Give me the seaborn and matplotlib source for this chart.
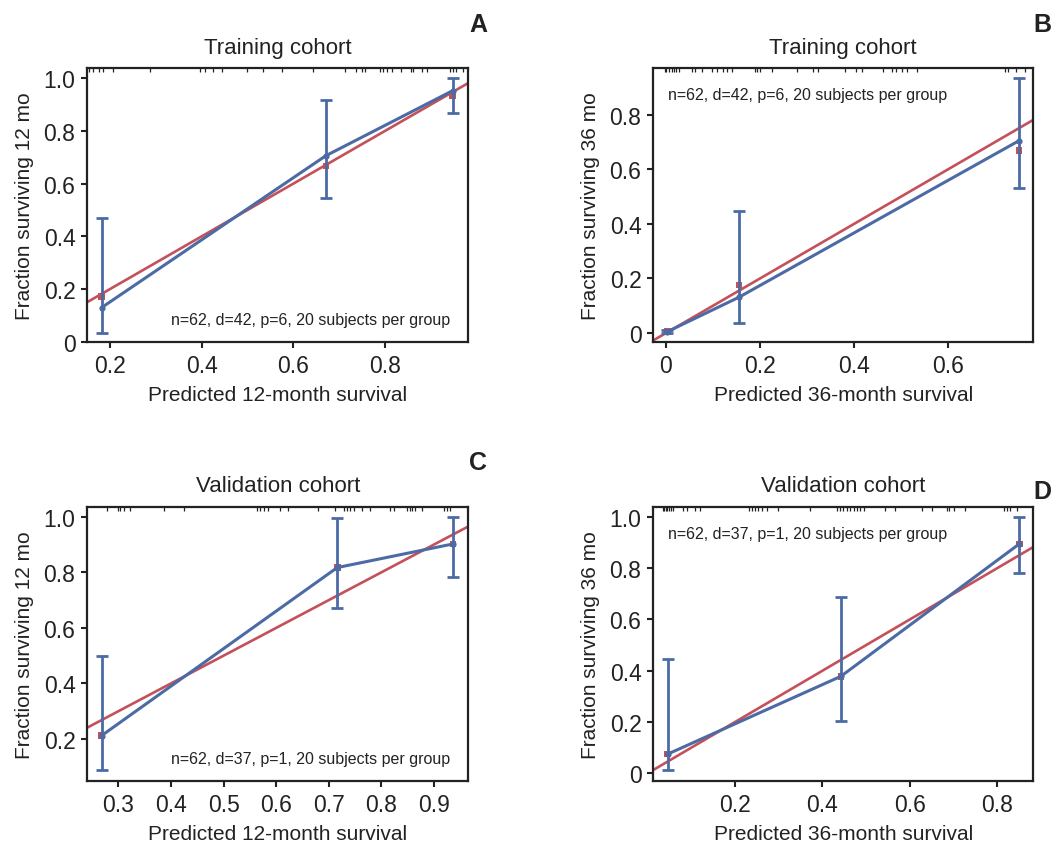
import numpy as np
import pandas as pd
import matplotlib
matplotlib.use("Agg")
import matplotlib.pyplot as plt
from matplotlib.ticker import FuncFormatter
import seaborn as sns

# ---------------- data ----------------
A_pred = [0.182, 0.671, 0.948]
A_obs = [0.130, 0.706, 0.953]
A_lo = [0.035, 0.546, 0.868]
A_hi = [0.470, 0.918, 1.000]
A_corr = [0.172, 0.668, 0.932]
A_rug = [0.155, 0.162, 0.177, 0.184, 0.206, 0.287, 0.396, 0.407, 0.425, 0.444,
         0.498, 0.535, 0.575, 0.644, 0.713, 0.738, 0.749, 0.756, 0.789, 0.796,
         0.804, 0.815, 0.836, 0.858, 0.862, 0.880, 0.891, 0.942, 0.949, 0.956, 0.971]

B_pred = [0.003, 0.155, 0.751]
B_obs = [0.005, 0.131, 0.705]
B_lo = [0.000, 0.037, 0.531]
B_hi = [0.010, 0.446, 0.934]
B_corr = [0.005, 0.176, 0.668]
B_rug = [-0.002, 0.001, 0.007, 0.012, 0.016, 0.021, 0.028, 0.055, 0.062, 0.076,
         0.097, 0.108, 0.122, 0.129, 0.140, 0.189, 0.193, 0.200, 0.225, 0.278,
         0.313, 0.324, 0.380, 0.405, 0.416, 0.462, 0.480, 0.490, 0.501, 0.512,
         0.533, 0.720, 0.727, 0.745, 0.763]

C_pred = [0.268, 0.716, 0.936]
C_obs = [0.212, 0.817, 0.902]
C_lo = [0.089, 0.671, 0.782]
C_hi = [0.500, 0.995, 1.000]
C_corr = [0.212, 0.817, 0.902]
C_rug = [0.278, 0.300, 0.303, 0.310, 0.322, 0.386, 0.424, 0.563, 0.569, 0.576,
         0.585, 0.607, 0.623, 0.680, 0.712, 0.728, 0.734, 0.740, 0.747, 0.763,
         0.779, 0.817, 0.823, 0.848, 0.855, 0.858, 0.864, 0.877, 0.918, 0.924, 0.930]

D_pred = [0.046, 0.442, 0.850]
D_obs = [0.075, 0.378, 0.894]
D_lo = [0.013, 0.205, 0.779]
D_hi = [0.445, 0.687, 0.997]
D_corr = [0.075, 0.378, 0.894]
D_rug = [0.035, 0.038, 0.042, 0.045, 0.050, 0.053, 0.058, 0.082, 0.090, 0.109,
         0.120, 0.231, 0.238, 0.246, 0.253, 0.261, 0.273, 0.299, 0.372, 0.433,
         0.440, 0.448, 0.456, 0.463, 0.471, 0.478, 0.486, 0.494, 0.543, 0.566,
         0.627, 0.650, 0.684, 0.690, 0.701, 0.726, 0.814, 0.821, 0.829, 0.844]

titles = ["Training cohort", "Training cohort", "Validation cohort", "Validation cohort"]
xlabels = ["Predicted 12-month survival", "Predicted 36-month survival",
           "Predicted 12-month survival", "Predicted 36-month survival"]
ylabels = ["Fraction surviving 12 mo", "Fraction surviving 36 mo",
           "Fraction surviving 12 mo", "Fraction surviving 36 mo"]
notes = ["n=62, d=42, p=6, 20 subjects per group", "n=62, d=42, p=6, 20 subjects per group",
         "n=62, d=37, p=1, 20 subjects per group", "n=62, d=37, p=1, 20 subjects per group"]
letters = ["A", "B", "C", "D"]

xticks = [[0.2, 0.4, 0.6, 0.8], [0, 0.2, 0.4, 0.6],
          [0.3, 0.4, 0.5, 0.6, 0.7, 0.8, 0.9], [0.2, 0.4, 0.6, 0.8]]
yticks = [[0, 0.2, 0.4, 0.6, 0.8, 1.0], [0, 0.2, 0.4, 0.6, 0.8],
          [0.2, 0.4, 0.6, 0.8, 1.0], [0, 0.2, 0.4, 0.6, 0.8, 1.0]]

# ---------------- style ----------------
sns.set_theme(style="ticks")
plt.rcParams['font.family'] = ['Liberation Sans Narrow', 'Liberation Sans', 'DejaVu Sans']
plt.rcParams['axes.edgecolor'] = '#222222'
plt.rcParams['text.color'] = '#222222'
plt.rcParams['axes.labelcolor'] = '#222222'
plt.rcParams['xtick.color'] = '#222222'
plt.rcParams['ytick.color'] = '#222222'

BLUE = "#4C6BA5"
RED = "#C4505A"

fig = plt.figure(figsize=(10.51, 8.45), dpi=100)

W, H = 1051, 845
boxes = [(87.3, 69.0, 468.3, 343.3), (653.3, 69.0, 1033.3, 343.3),
         (87.3, 507.7, 468.3, 781.7), (653.3, 507.7, 1033.3, 781.7)]
xlims = [(0.1505, 0.982), (-0.027, 0.781), (0.241, 0.965), (0.0132, 0.882)]
ylims = [(-0.002, 1.039), (-0.034, 0.971), (0.050, 1.036), (-0.0286, 1.039)]
note_pos = [(0.952, 0.082, 'right'), (0.040, 0.905, 'left'),
            (0.952, 0.082, 'right'), (0.040, 0.904, 'left')]
letter_pos = [(478, 25), (1042, 25), (478, 463), (1042, 492)]

panels = [
    (A_pred, A_obs, A_lo, A_hi, A_corr, A_rug),
    (B_pred, B_obs, B_lo, B_hi, B_corr, B_rug),
    (C_pred, C_obs, C_lo, C_hi, C_corr, C_rug),
    (D_pred, D_obs, D_lo, D_hi, D_corr, D_rug),
]

fmt = FuncFormatter(lambda v, p: '0' if abs(v) < 1e-9 else f'{v:.1f}')

for i, (pred, obs, lo, hi, corr, rug) in enumerate(panels):
    l, t, r, b = boxes[i]
    ax = fig.add_axes([l / W, 1 - b / H, (r - l) / W, (b - t) / H])
    df = pd.DataFrame({"pred": pred, "obs": obs, "lo": lo, "hi": hi, "corr": corr})

    # ideal line
    ax.axline((0, 0), slope=1, color=RED, lw=1.9, zorder=2)
    # bias-corrected marks
    sns.scatterplot(data=df, x="pred", y="corr", ax=ax, marker='s', s=22,
                    color=RED, edgecolor='none', zorder=3, legend=False)
    # observed calibration line
    sns.lineplot(data=df, x="pred", y="obs", ax=ax, sort=False, color=BLUE,
                 lw=2.2, marker='o', markersize=4.5, markeredgewidth=0, zorder=4)
    ax.errorbar(df["pred"], df["obs"],
                yerr=[df["obs"] - df["lo"], df["hi"] - df["obs"]],
                fmt='none', ecolor=BLUE, elinewidth=2.0, capsize=4, capthick=2.0,
                zorder=4)
    # rug of predictions at top
    ax.vlines(rug, 0.985, 1.0, transform=ax.get_xaxis_transform(),
              color='#222222', lw=0.9, zorder=5)

    ax.set_xlim(*xlims[i])
    ax.set_ylim(*ylims[i])
    ax.set_xticks(xticks[i])
    ax.set_yticks(yticks[i])
    ax.xaxis.set_major_formatter(fmt)
    ax.yaxis.set_major_formatter(fmt)
    ax.tick_params(axis='both', direction='out', length=4.5, width=1.5,
                   labelsize=16.5, pad=4)
    for s in ax.spines.values():
        s.set_linewidth(1.6)
        s.set_color('#222222')
    ax.set_xlabel(xlabels[i], fontsize=15, labelpad=6)
    ax.set_ylabel(ylabels[i], fontsize=15, labelpad=7)
    ax.set_title(titles[i], fontsize=16, pad=11)
    nx, ny, ha = note_pos[i]
    ax.text(nx, ny, notes[i], transform=ax.transAxes, ha=ha, va='center',
            fontsize=11.5)
    lx, ly = letter_pos[i]
    fig.text(lx / W, 1 - ly / H, letters[i], ha='center', va='center',
             fontsize=18, fontweight='bold')

fig.savefig("out.png", dpi=100)
